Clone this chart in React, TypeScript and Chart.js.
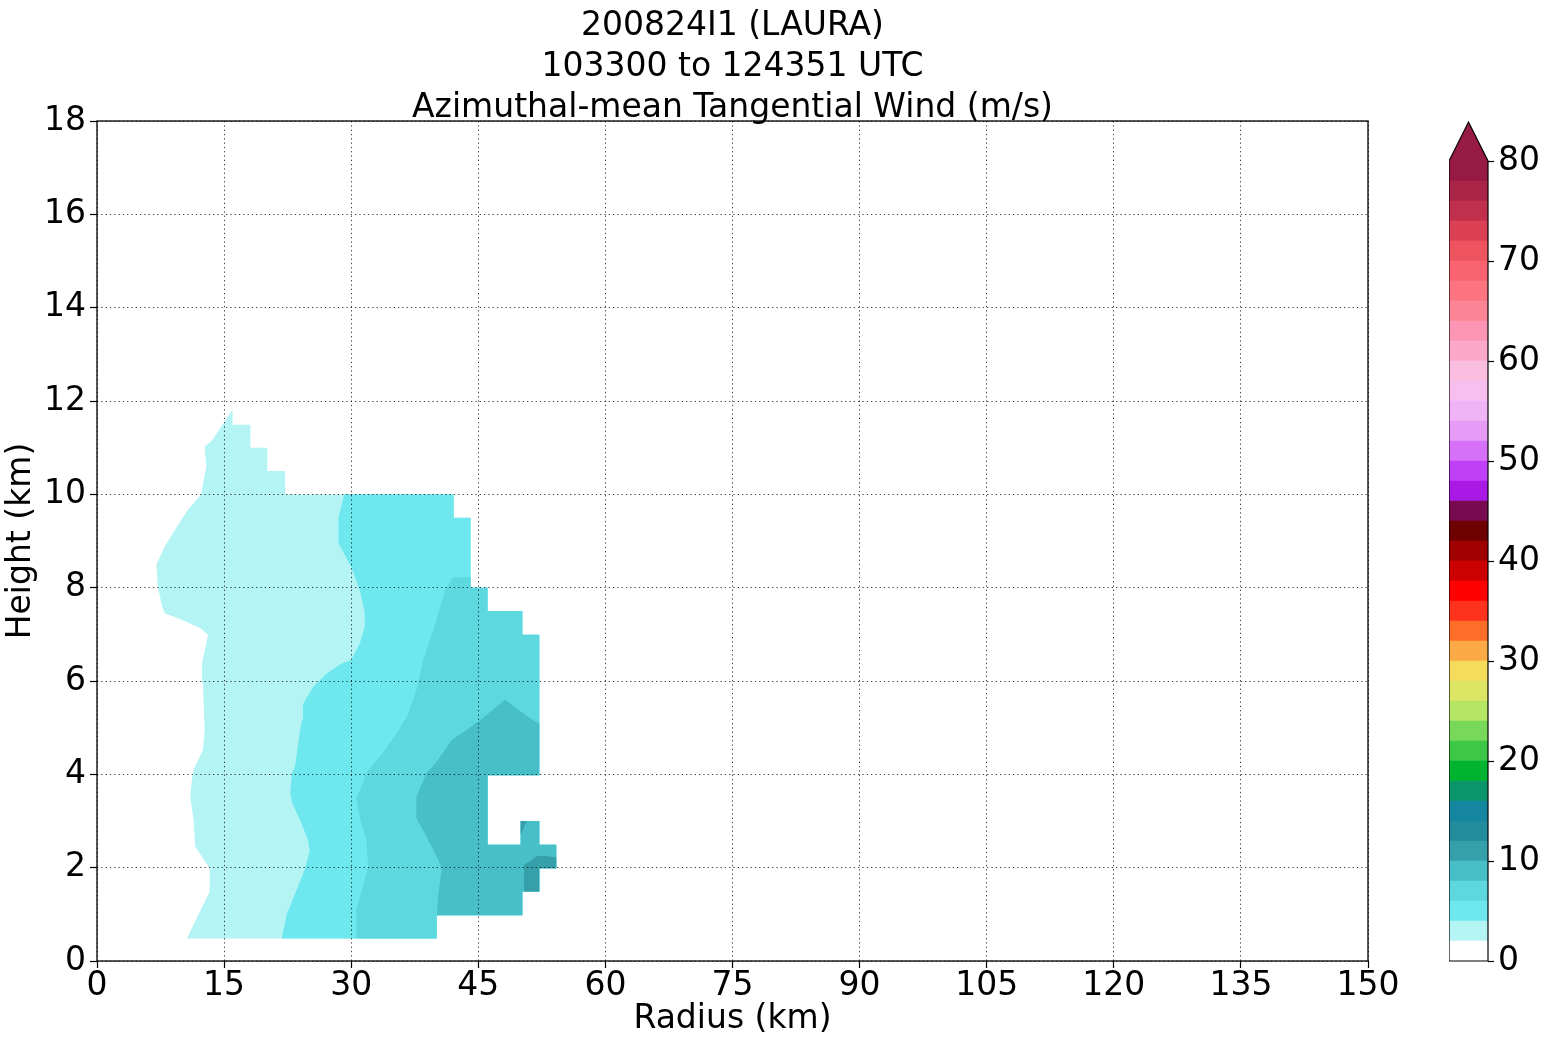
import React, { useEffect, useRef } from 'react';
import { Chart, registerables } from 'chart.js';

Chart.register(...registerables);

const FONT = "'DejaVu Sans', 'Liberation Sans', sans-serif";

// ---- text ----
const titleLines = ['200824I1 (LAURA)', '103300 to 124351 UTC', 'Azimuthal-mean Tangential Wind (m/s)'];
const xLabel = 'Radius (km)';
const yLabel = 'Height (km)';

// ---- ticks ----
const xTicks = [0, 15, 30, 45, 60, 75, 90, 105, 120, 135, 150];
const yTicks = [0, 2, 4, 6, 8, 10, 12, 14, 16, 18];
const cbTicks = [0, 10, 20, 30, 40, 50, 60, 70, 80];

// ---- colour levels (lower bound of each 2 m/s band) ----
const levelStep = 2;
const levels = [
  0, 2, 4, 6, 8, 10, 12, 14, 16, 18, 20, 22, 24, 26, 28, 30, 32, 34, 36, 38,
  40, 42, 44, 46, 48, 50, 52, 54, 56, 58, 60, 62, 64, 66, 68, 70, 72, 74, 76, 78,
];
const levelColors = [
  '#ffffff', '#b4f4f4', '#6ee8ee', '#5cd8de', '#48bec8', '#36a0aa', '#208c9c', '#1486a0',
  '#0a966a', '#00b432', '#3cc846', '#78d85a', '#b4e664', '#dce664', '#f5dc5a', '#fbaa46',
  '#ff6e28', '#ff321e', '#ff0000', '#cc0000', '#a00000', '#6e0000', '#780a50', '#aa18e6',
  '#c040f8', '#d670f6', '#e69cf6', '#f0b4f6', '#f8bef0', '#fcbee0', '#fca8c8', '#fc96b4',
  '#fc8494', '#fc7480', '#fa6470', '#ee5460', '#dc4054', '#c0304c', '#aa2448', '#961a44',
];

// ---- filled contour regions: [radius km, height km] ----
const outerRight: [number, number][] = [
  [42.1, 10.0], [42.1, 9.5], [44.1, 9.5], [44.1, 8.0], [46.1, 8.0], [46.1, 7.5],
  [50.2, 7.5], [50.2, 6.99], [52.2, 6.99], [52.2, 3.98], [46.1, 3.98], [46.1, 2.49],
  [50.0, 2.49], [50.0, 3.0], [52.2, 3.0], [52.2, 2.49], [54.2, 2.49], [54.2, 1.99],
  [52.2, 1.99], [52.2, 1.49], [50.2, 1.49], [50.2, 0.98], [40.1, 0.98], [40.1, 0.48],
];
const region2Left: [number, number][] = [
  [10.6, 0.48], [13.3, 1.49], [13.3, 1.99], [11.6, 2.45], [11.4, 3.02], [11.0, 3.52],
  [11.2, 3.88], [11.4, 4.1], [12.5, 4.52], [12.7, 4.95], [12.5, 5.95], [12.4, 6.38],
  [12.8, 6.73], [13.1, 6.99], [12.2, 7.13], [10.0, 7.31], [8.0, 7.45], [7.7, 7.59],
  [7.2, 7.99], [7.0, 8.49], [8.0, 8.88], [9.2, 9.24], [10.7, 9.66], [12.3, 10.0],
  [12.6, 10.31], [12.9, 10.59], [12.7, 11.02], [13.6, 11.16], [14.9, 11.52], [16.0, 11.81],
  [16.0, 11.49], [18.1, 11.49], [18.1, 11.0], [20.1, 11.0], [20.1, 10.5], [22.2, 10.5],
  [22.2, 10.0],
];
const region4Left: [number, number][] = [
  [21.8, 0.48], [22.4, 1.0], [23.4, 1.45], [24.5, 1.95], [25.1, 2.35], [24.9, 2.6],
  [24.0, 3.0], [23.0, 3.4], [22.8, 3.6], [23.0, 4.0], [23.4, 4.2], [24.0, 5.0],
  [24.2, 5.16], [24.3, 5.5], [25.5, 5.87], [27.1, 6.16], [28.9, 6.38], [30.0, 6.45],
  [31.0, 6.8], [31.6, 7.16], [31.6, 7.48], [31.0, 7.95], [30.0, 8.45], [28.5, 8.95],
  [28.5, 9.5], [29.2, 10.0],
];
const region6Left: [number, number][] = [
  [30.6, 0.48], [30.6, 1.09], [32.0, 2.02], [31.8, 2.59], [31.0, 3.09], [30.6, 3.49],
  [32.0, 4.09], [33.4, 4.38], [35.4, 4.88], [36.6, 5.25], [37.7, 5.8], [38.5, 6.45],
  [39.7, 7.1], [41.1, 7.95], [42.0, 8.22], [44.1, 8.23],
];
const region8Left: [number, number][] = [
  [40.1, 0.98], [40.3, 1.45], [40.7, 2.0], [39.7, 2.38], [38.5, 2.8], [37.7, 3.06],
  [37.7, 3.52], [38.9, 4.03], [40.1, 4.27], [41.9, 4.74], [43.6, 4.95], [45.2, 5.16],
  [48.15, 5.6], [51.1, 5.2], [52.2, 5.09],
];
const region10a: [number, number][] = [[50.0, 3.0], [50.7, 3.0], [50.0, 2.7]];
const region10b: [number, number][] = [
  [50.4, 1.49], [50.4, 2.06], [51.1, 2.13], [51.9, 2.25], [52.95, 2.25], [54.2, 2.22],
  [54.2, 1.99], [52.2, 1.99], [52.2, 1.49],
];

const contourRegions: { level: number; points: [number, number][] }[] = [
  { level: 2, points: [...region2Left, ...outerRight] },
  { level: 4, points: [...region4Left, ...outerRight] },
  { level: 6, points: [...region6Left, ...outerRight.slice(3)] },
  { level: 8, points: [...region8Left, ...outerRight.slice(9, 22)] },
  { level: 10, points: region10a },
  { level: 10, points: region10b },
];

const colorFor = (lv: number) => levelColors[levels.indexOf(lv)];

const titlePlugin = {
  id: 'stackedTitle',
  afterDraw(chart: any) {
    const { ctx, chartArea } = chart;
    ctx.save();
    ctx.font = `33px ${FONT}`;
    ctx.fillStyle = '#000';
    ctx.textAlign = 'center';
    ctx.textBaseline = 'alphabetic';
    const cx = (chartArea.left + chartArea.right) / 2;
    const n = titleLines.length;
    titleLines.forEach((t, i) => {
      ctx.fillText(t, cx, chartArea.top - 4 - (n - 1 - i) * 41);
    });
    ctx.restore();
  },
};

const framePlugin = {
  id: 'frame',
  afterDraw(chart: any) {
    const { ctx, chartArea: a } = chart;
    ctx.save();
    ctx.strokeStyle = '#000';
    ctx.lineWidth = 1.3;
    ctx.setLineDash([]);
    ctx.strokeRect(a.left, a.top, a.right - a.left, a.bottom - a.top);
    ctx.restore();
  },
};

const colorbarPlugin = {
  id: 'colorbarOutline',
  afterDatasetsDraw(chart: any) {
    const { ctx, chartArea: a } = chart;
    const apex = a.top - (a.right - a.left);
    const mid = (a.left + a.right) / 2;
    ctx.save();
    ctx.beginPath();
    ctx.moveTo(a.left, a.top);
    ctx.lineTo(mid, apex);
    ctx.lineTo(a.right, a.top);
    ctx.closePath();
    ctx.fillStyle = levelColors[levelColors.length - 1];
    ctx.fill();
    ctx.beginPath();
    ctx.moveTo(a.left, a.bottom);
    ctx.lineTo(a.left, a.top);
    ctx.lineTo(mid, apex);
    ctx.lineTo(a.right, a.top);
    ctx.lineTo(a.right, a.bottom);
    ctx.closePath();
    ctx.strokeStyle = '#000';
    ctx.lineWidth = 1.2;
    ctx.stroke();
    ctx.restore();
  },
};

export default function App() {
  const mainRef = useRef<HTMLCanvasElement>(null);
  const barRef = useRef<HTMLCanvasElement>(null);

  useEffect(() => {
    const tickFont = { family: FONT, size: 33, lineHeight: 1 };
    const gridCommon = {
      display: true,
      drawOnChartArea: true,
      drawTicks: true,
      color: 'rgba(0,0,0,0.75)',
      lineWidth: 1,
      tickLength: 7,
      tickColor: '#000',
      tickWidth: 1.2,
      z: 1,
    };
    const main = new Chart(mainRef.current!, {
      type: 'scatter',
      data: {
        datasets: contourRegions.map((r, i) => ({
          label: `>= ${r.level}`,
          data: r.points.map(([x, y]) => ({ x, y })),
          showLine: true,
          fill: 'shape',
          backgroundColor: colorFor(r.level),
          borderColor: 'rgba(0,0,0,0)',
          borderWidth: 0,
          pointRadius: 0,
          pointHoverRadius: 0,
          tension: 0,
          order: contourRegions.length - i,
        })),
      },
      options: {
        responsive: false,
        animation: false,
        devicePixelRatio: 1,
        events: [],
        layout: { padding: { top: 121, right: 180, bottom: 0, left: 0 } },
        plugins: {
          legend: { display: false },
          tooltip: { enabled: false },
          title: { display: false },
        },
        scales: {
          x: {
            type: 'linear',
            min: 0,
            max: 150,
            afterBuildTicks: (s: any) => {
              s.ticks = xTicks.map((v) => ({ value: v }));
            },
            afterFit: (s: any) => {
              s.height = 84;
            },
            ticks: { font: tickFont, color: '#000', padding: 2, maxRotation: 0, autoSkip: false },
            grid: gridCommon,
            border: { display: false, dash: [1.3, 3] },
            title: {
              display: true,
              text: xLabel,
              color: '#000',
              font: { family: FONT, size: 33 },
              padding: { top: 0, bottom: 6 },
            },
          },
          y: {
            type: 'linear',
            min: 0,
            max: 18,
            afterBuildTicks: (s: any) => {
              s.ticks = yTicks.map((v) => ({ value: v }));
            },
            afterFit: (s: any) => {
              s.width = 97;
            },
            ticks: { font: tickFont, color: '#000', padding: 4, autoSkip: false },
            grid: gridCommon,
            border: { display: false, dash: [1.3, 3] },
            title: {
              display: true,
              text: yLabel,
              color: '#000',
              font: { family: FONT, size: 33 },
              padding: { top: 2, bottom: 0 },
            },
          },
        },
      } as any,
      plugins: [titlePlugin, framePlugin],
    });

    const bar = new Chart(barRef.current!, {
      type: 'bar',
      data: {
        labels: [''],
        datasets: levels.map((lv, i) => ({
          label: `${lv}-${lv + levelStep}`,
          data: [levelStep],
          backgroundColor: levelColors[i],
          borderWidth: 0,
          barPercentage: 1,
          categoryPercentage: 1,
          stack: 'cb',
        })),
      },
      options: {
        responsive: false,
        animation: false,
        devicePixelRatio: 1,
        events: [],
        layout: { padding: { top: 61, bottom: 39, left: 0, right: 0 } },
        plugins: { legend: { display: false }, tooltip: { enabled: false } },
        scales: {
          x: { display: false, stacked: true },
          y: {
            stacked: true,
            position: 'right',
            min: 0,
            max: 80,
            afterBuildTicks: (s: any) => {
              s.ticks = cbTicks.map((v) => ({ value: v }));
            },
            afterFit: (s: any) => {
              s.width = 60;
            },
            grid: { display: true, drawOnChartArea: false, drawTicks: true, tickLength: 6, tickColor: '#000', tickWidth: 1.2 },
            border: { display: false },
            ticks: { font: tickFont, color: '#000', padding: 4 },
          },
        },
      } as any,
      plugins: [colorbarPlugin],
    });

    return () => {
      main.destroy();
      bar.destroy();
    };
  }, []);

  return (
    <div style={{ position: 'absolute', left: 0, top: 0, width: 1548, height: 1045, background: '#fff' }}>
      <canvas ref={mainRef} width={1548} height={1045} style={{ position: 'absolute', left: 0, top: 0 }} />
      <canvas ref={barRef} width={99} height={900} style={{ position: 'absolute', left: 1449, top: 100 }} />
    </div>
  );
}
